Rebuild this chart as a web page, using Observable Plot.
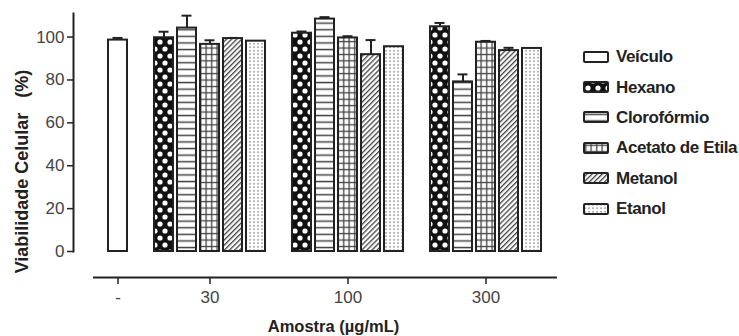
<!DOCTYPE html>
<html>
<head>
<meta charset="utf-8">
<script src="https://cdn.jsdelivr.net/npm/d3@7"></script>
<script src="https://cdn.jsdelivr.net/npm/@observablehq/plot@0.6"></script>
<style>
  html, body { margin: 0; padding: 0; background: #fff; }
  #wrap { position: relative; width: 739px; height: 336px; font-family: "Liberation Sans", Arial, sans-serif; }
  #legend { position: absolute; left: 583px; top: 42px; }
  .row { display: flex; align-items: center; height: 30.4px; }
  .row svg { flex: none; }
  .row span { margin-left: 7px; font-size: 17px; font-weight: bold; color: #222; letter-spacing: -0.4px; }
</style>
</head>
<body>
<svg width="0" height="0" style="position:absolute">
  <defs>
    <pattern id="p-hex" patternUnits="userSpaceOnUse" width="10" height="14">
      <rect width="10" height="14" fill="#111"/>
      <circle cx="5" cy="7" r="2.6" fill="#fff"/>
      <circle cx="0" cy="0" r="2.6" fill="#fff"/>
      <circle cx="10" cy="0" r="2.6" fill="#fff"/>
      <circle cx="0" cy="14" r="2.6" fill="#fff"/>
      <circle cx="10" cy="14" r="2.6" fill="#fff"/>
    </pattern>
    <pattern id="p-clo" patternUnits="userSpaceOnUse" width="8" height="6.6">
      <rect width="8" height="6.6" fill="#fff"/>
      <rect y="2.6" width="8" height="1.5" fill="#444"/>
    </pattern>
    <pattern id="p-ace" patternUnits="userSpaceOnUse" width="5.5" height="6.4">
      <rect width="5.5" height="6.4" fill="#fff"/>
      <rect x="2" width="1.3" height="6.4" fill="#444"/>
      <rect y="2.6" width="5.5" height="1.3" fill="#444"/>
    </pattern>
    <pattern id="p-met" patternUnits="userSpaceOnUse" width="3.6" height="3.6" patternTransform="rotate(45)">
      <rect width="3.6" height="3.6" fill="#fff"/>
      <rect width="1.3" height="3.6" fill="#444"/>
    </pattern>
    <pattern id="p-eta" patternUnits="userSpaceOnUse" width="4" height="3.5">
      <rect width="4" height="3.5" fill="#fff"/>
      <rect x="1.4" y="1.1" width="1.3" height="1.3" fill="#666"/>
    </pattern>
  </defs>
</svg>
<div id="wrap"><div id="legend"></div></div>
<script>
// ---- data ----
const doseLabels = ["-", "30", "100", "300"];
const extractNames = ["Veículo", "Hexano", "Clorofórmio", "Acetato de Etila", "Metanol", "Etanol"];
// Veículo only at "-"; the others at 30, 100, 300 µg/mL
const veiculoMean = [98.6];
const veiculoErr  = [1.0];
const hexanoMean  = [99.7, 101.8, 104.8];
const hexanoErr   = [2.8, 0.8, 1.8];
const cloroMean   = [104.2, 108.4, 79.1];
const cloroErr    = [5.8, 0.9, 3.5];
const acetatoMean = [96.6, 99.6, 97.6];
const acetatoErr  = [1.9, 0.8, 0.6];
const metanolMean = [99.3, 91.8, 93.7];
const metanolErr  = [0.3, 6.8, 1.3];
const etanolMean  = [98.1, 95.5, 94.7];
const etanolErr   = [0, 0, 0];
const yTicks = [0, 20, 40, 60, 80, 100];

// ---- styles ----
const fillOf = {
  "Veículo": "white",
  "Hexano": "url(#p-hex)",
  "Clorofórmio": "url(#p-clo)",
  "Acetato de Etila": "url(#p-ace)",
  "Metanol": "url(#p-met)",
  "Etanol": "url(#p-eta)"
};

// ---- build table ----
const series = {
  "Hexano": [hexanoMean, hexanoErr],
  "Clorofórmio": [cloroMean, cloroErr],
  "Acetato de Etila": [acetatoMean, acetatoErr],
  "Metanol": [metanolMean, metanolErr],
  "Etanol": [etanolMean, etanolErr]
};
const rows = [];
const slots = [];
rows.push({dose: doseLabels[0], extract: extractNames[0], mean: veiculoMean[0], err: veiculoErr[0], slot: doseLabels[0] + "|" + extractNames[0]});
slots.push(doseLabels[0] + "|" + extractNames[0]);
const tickKeys = [doseLabels[0] + "|" + extractNames[0]];
doseLabels.slice(1).forEach((dose, i) => {
  slots.push("gap" + i);
  extractNames.slice(1).forEach(ex => {
    const key = dose + "|" + ex;
    slots.push(key);
    rows.push({dose, extract: ex, mean: series[ex][0][i], err: series[ex][1][i], slot: key});
  });
  tickKeys.push(dose + "|" + extractNames[3]);
});
const errRows = rows.filter(d => d.err > 0);

const chart = Plot.plot({
  width: 739,
  height: 336,
  marginLeft: 73,
  marginRight: 182,
  marginTop: 13,
  marginBottom: 85,
  style: {fontFamily: "'Liberation Sans', Arial, sans-serif", background: "transparent"},
  x: {type: "band", domain: slots, insetLeft: 20, paddingInner: 0.155, paddingOuter: 0.64, axis: null},
  y: {domain: [0, 111], axis: null},
  color: {type: "identity"},
  marks: [
    Plot.frame({anchor: "left", stroke: "#222", strokeWidth: 2}),
    Plot.axisY({ticks: yTicks, tickSize: 6, tickPadding: 3, fontSize: 17, stroke: "#222", strokeWidth: 1.5, fill: "#444", label: null}),
    Plot.ruleY([0], {dy: 26, insetLeft: 20, stroke: "#222", strokeWidth: 2}),
    Plot.axisX({ticks: tickKeys, tickFormat: k => k.split("|")[0], tickSize: 7, tickPadding: 6, dy: 26, fontSize: 17, stroke: "#222", strokeWidth: 1.5, fill: "#444", label: null}),
    Plot.ruleX(errRows, {x: "slot", y1: "mean", y2: d => d.mean + d.err, stroke: "#222", strokeWidth: 2}),
    Plot.tickY(errRows, {x: "slot", y: d => d.mean + d.err, insetLeft: 4.5, insetRight: 4.5, stroke: "#222", strokeWidth: 2}),
    Plot.barY(rows, {x: "slot", y: "mean", fill: d => fillOf[d.extract], stroke: "#222", strokeWidth: 2, insetLeft: 0, insetRight: 0}),
    Plot.text(["Viabilidade Celular\u00a0\u00a0\u00a0(%)"], {frameAnchor: "left", textAnchor: "middle", dx: -51, dy: 39, rotate: -90, fontSize: 18, fontWeight: "bold", fill: "#222"}),
    Plot.text(["Amostra (µg/mL)"], {frameAnchor: "bottom", dx: 18, dy: 80, fontSize: 16.5, fontWeight: "bold", fill: "#222"})
  ]
});
const wrap = document.getElementById("wrap");
wrap.insertBefore(chart, wrap.firstChild);

// ---- legend ----
const legend = document.getElementById("legend");
extractNames.forEach(name => {
  const row = document.createElement("div");
  row.className = "row";
  row.innerHTML = `<svg width="26" height="13"><rect x="1" y="1" width="24" height="10" rx="1" fill="${fillOf[name]}" stroke="#222" stroke-width="2"/></svg><span>${name}</span>`;
  legend.appendChild(row);
});
</script>
</body>
</html>
